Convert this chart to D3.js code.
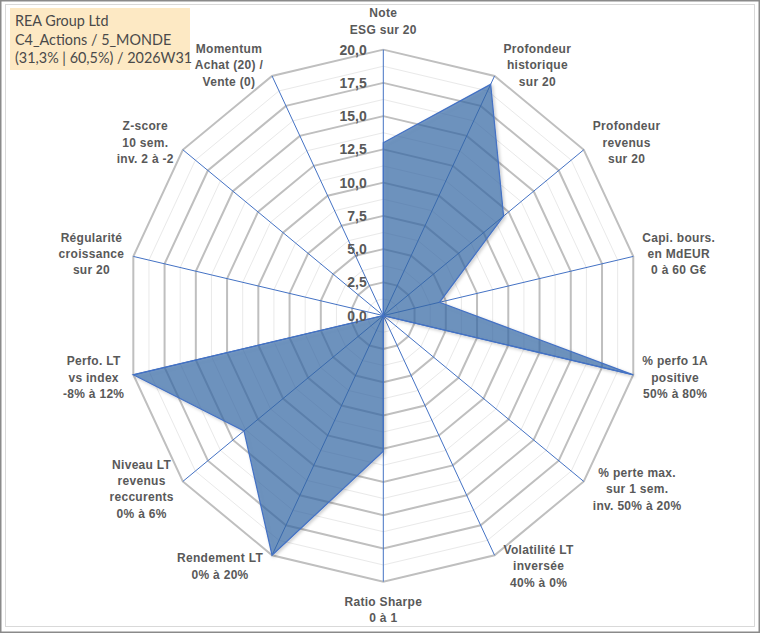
<!DOCTYPE html>
<html>
<head>
<meta charset="utf-8">
<script src="https://cdn.jsdelivr.net/npm/d3@7"></script>
<style>
  body { margin: 0; background: #fff; }
  svg { display: block; }
</style>
</head>
<body>
<div id="chart"></div>
<script>
// axis labels, clockwise from the top
var categories = [
    ["Note", "ESG sur 20"],
    ["Profondeur", "historique", "sur 20"],
    ["Profondeur", "revenus", "sur 20"],
    ["Capi. bours.", "en MdEUR", "0 à 60 G€"],
    ["% perfo 1A", "positive", "50% à 80%"],
    ["% perte max.", "sur 1 sem.", "inv. 50% à 20%"],
    ["Volatilité LT", "inversée", "40% à 0%"],
    ["Ratio Sharpe", "0 à 1"],
    ["Rendement LT", "0% à 20%"],
    ["Niveau LT", "revenus", "reccurents", "0% à 6%"],
    ["Perfo. LT", "vs index", "-8% à 12%"],
    ["Régularité", "croissance", "sur 20"],
    ["Z-score", "10 sem.", "inv. 2 à -2"],
    ["Momentum", "Achat (20) /", "Vente (0)"]
];
var scores = [13.0, 19.3, 12.0, 4.5, 20.0, 0, 0, 10.2, 20.0, 13.9, 20.0, 0, 0, 0];
var tickValues = [0, 2.5, 5, 7.5, 10, 12.5, 15, 17.5, 20];
var tickLabels = ["0,0", "2,5", "5,0", "7,5", "10,0", "12,5", "15,0", "17,5", "20,0"];
var titleLines = ["REA Group Ltd", "C4_Actions / 5_MONDE", "(31,3% | 60,5%) / 2026W31"];

var width = 760, height = 633;
var cx = 383.3, cy = 315.6;

var svg = d3.select("#chart").append("svg")
    .attr("width", width)
    .attr("height", height);

// frame
svg.append("rect").attr("x", 0.75).attr("y", 0.75).attr("width", width - 1.5).attr("height", height - 1.5)
    .attr("fill", "#fff").attr("stroke", "#8a8a8a").attr("stroke-width", 1.5);
svg.append("rect").attr("x", 5.5).attr("y", 4.5).attr("width", 749).attr("height", 622)
    .attr("fill", "none").attr("stroke", "#d9d9d9").attr("stroke-width", 1);

var defs = svg.append("defs");
var f = defs.append("filter").attr("id", "shadow").attr("x", "-10%").attr("y", "-10%").attr("width", "130%").attr("height", "130%");
f.append("feDropShadow").attr("dx", 1.5).attr("dy", 1.5).attr("stdDeviation", 1.5)
    .attr("flood-color", "#000").attr("flood-opacity", 0.25);

var n = categories.length;
var angle = d3.scaleLinear().domain([0, n]).range([0, 2 * Math.PI]);
// picture is a bit narrower than tall
var rx = d3.scaleLinear().domain([0, 20]).range([0, 256.4]);
var ry = d3.scaleLinear().domain([0, 20]).range([0, 266]);

function px(i, v) { return cx + rx(v) * Math.sin(angle(i)); }
function py(i, v) { return cy - ry(v) * Math.cos(angle(i)); }

function ring(v) {
    return d3.range(n + 1).map(i => [px(i % n, v), py(i % n, v)]);
}
var line = d3.line();

// minor rings
svg.append("g").selectAll("path")
    .data(d3.range(1.25, 20, 2.5))
    .join("path")
    .attr("d", d => line(ring(d)))
    .attr("fill", "none")
    .attr("stroke", "#e9e9e9")
    .attr("stroke-width", 1);

// major rings
svg.append("g").selectAll("path")
    .data(tickValues.slice(1))
    .join("path")
    .attr("d", d => line(ring(d)))
    .attr("fill", "none")
    .attr("stroke", "#bfbfbf")
    .attr("stroke-width", 2);

// spokes
svg.append("g").selectAll("line")
    .data(categories)
    .join("line")
    .attr("x1", cx).attr("y1", cy)
    .attr("x2", (d, i) => px(i, 20))
    .attr("y2", (d, i) => py(i, 20))
    .attr("stroke", "#4472c4")
    .attr("stroke-width", 1);

// series
svg.append("path")
    .datum(scores)
    .attr("d", d => line(d.map((v, i) => [px(i, v), py(i, v)])) + "Z")
    .attr("fill", "#3569a9")
    .attr("fill-opacity", 0.66)
    .attr("stroke", "#4472c4")
    .attr("stroke-width", 1.25)
    .attr("stroke-linejoin", "miter")
    .attr("filter", "url(#shadow)");

// tick labels on the first axis
svg.append("g")
    .attr("text-anchor", "end")
    .style("font", "bold 14px 'Liberation Sans', Arial, sans-serif")
    .attr("fill", "#595959")
    .selectAll("text")
    .data(tickValues)
    .join("text")
    .attr("x", cx - 16.5)
    .attr("y", d => py(0, d))
    .attr("dy", "0.36em")
    .text((d, i) => tickLabels[i]);

// category labels
var lh = 16.3;
var lab = svg.append("g")
    .attr("text-anchor", "middle")
    .style("font", "bold 12px 'Liberation Sans', Arial, sans-serif")
    .style("letter-spacing", "0.3px")
    .attr("fill", "#595959")
    .selectAll("g")
    .data(categories)
    .join("g");

lab.each(function(d, i) {
    var g = d3.select(this);
    var t = g.append("text");
    t.selectAll("tspan")
        .data(d)
        .join("tspan")
        .attr("x", 0)
        .attr("dy", (s, j) => j === 0 ? 0 : lh)
        .text(s => s);
    var w = d3.max(t.selectAll("tspan").nodes(), nd => nd.getComputedTextLength());
    var h = d.length * lh;
    var a = angle(i), s = Math.sin(a), c = Math.cos(a);
    var vx = px(i, 20), vy = py(i, 20);
    var mx, my;
    if (Math.abs(s) < 0.01) {
        mx = vx;
        my = vy - Math.sign(c) * (h / 2 + 12);
    } else {
        mx = vx + Math.sign(s) * (9 + w / 2);
        my = vy - 12 * c;
    }
    // first baseline so the block is centred on my
    g.attr("transform", `translate(${mx},${my - h / 2 + lh / 2 + 4.3})`);
});

// title box
svg.append("rect")
    .attr("x", 10).attr("y", 8).attr("width", 180).attr("height", 62)
    .attr("fill", "#fde9c4");
svg.append("g")
    .style("font", "14.4px Lato, 'Open Sans', sans-serif")
    .attr("fill", "#4a4a4a")
    .selectAll("text")
    .data(titleLines)
    .join("text")
    .attr("x", 15)
    .attr("y", (d, i) => 26 + i * 18.5)
    .text(d => d);
</script>
</body>
</html>
